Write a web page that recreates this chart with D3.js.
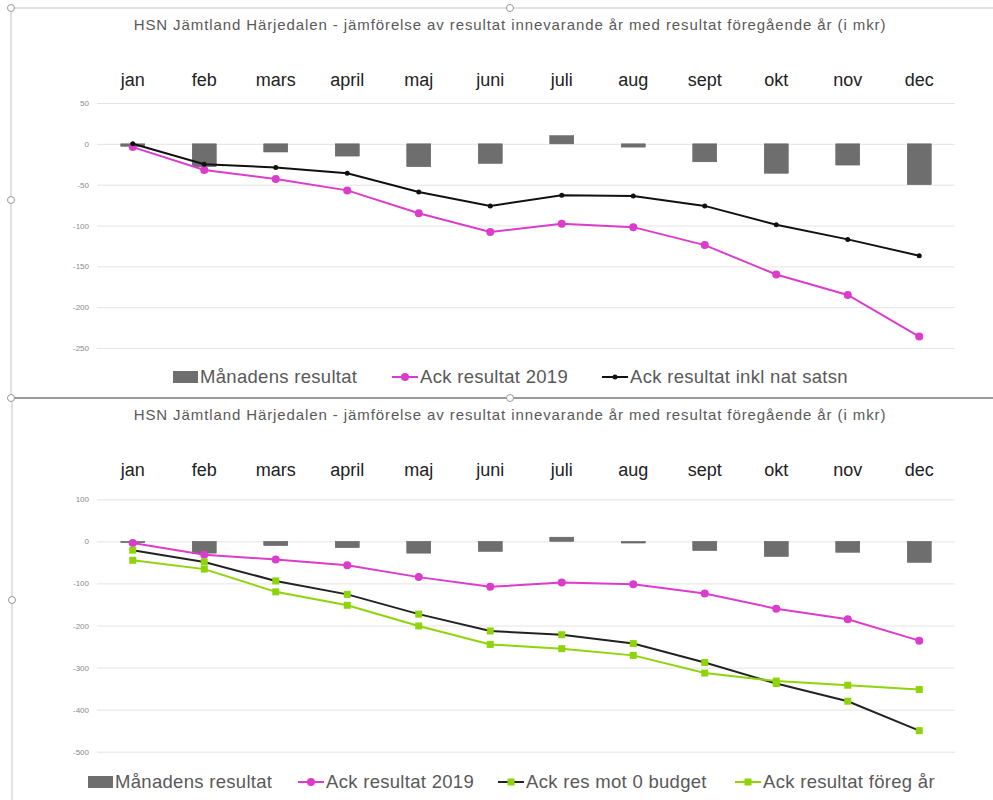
<!DOCTYPE html>
<html>
<head>
<meta charset="utf-8">
<script src="https://cdn.jsdelivr.net/npm/d3@7"></script>
<style>
  body { margin: 0; background: #fff; }
  svg { font-family: "Liberation Sans", Arial, sans-serif; }
</style>
</head>
<body>
<div id="chart"></div>
<script>
const months = ["jan", "feb", "mars", "april", "maj", "juni", "juli", "aug", "sept", "okt", "nov", "dec"];
const title = "HSN Jämtland Härjedalen - jämförelse av resultat innevarande år med resultat föregående år (i mkr)";

// Månadens resultat (same in both charts)
const monthly = [-3, -28, -10, -15, -28, -24, 10, -4, -22, -36, -26, -50];
// Ack resultat 2019
const ack2019 = [-4, -32, -43, -57, -85, -108, -98, -102, -124, -160, -185, -236];
// top chart: Ack resultat inkl nat satsn
const ackNat = [0, -25, -29, -36, -59, -76, -63, -64, -76, -99, -117, -137];
// bottom chart: Ack res mot 0 budget
const ackBudget = [-21, -49, -94, -126, -173, -213, -222, -243, -288, -338, -380, -450];
// bottom chart: Ack resultat föreg år
const ackPrev = [-45, -66, -120, -152, -201, -245, -255, -271, -313, -332, -342, -352];

const topTicks = [50, 0, -50, -100, -150, -200, -250];
const bottomTicks = [100, 0, -100, -200, -300, -400, -500];

const pink = "#dc3ccb";
const green = "#8fd40a";
const barColor = "#6e6e6e";

const svg = d3.select("#chart").append("svg")
    .attr("width", 993)
    .attr("height", 800);

// frames (screenshot of selected chart objects)
svg.append("rect")
    .attr("x", 11).attr("y", 8)
    .attr("width", 1000).attr("height", 390)
    .attr("fill", "none")
    .attr("stroke", "#c4c4c4")
    .attr("stroke-width", 1);
svg.append("line")
    .attr("x1", 11).attr("x2", 993).attr("y1", 398).attr("y2", 398)
    .attr("stroke", "#9a9a9a").attr("stroke-width", 2);
svg.append("line")
    .attr("x1", 12).attr("x2", 12).attr("y1", 398).attr("y2", 800)
    .attr("stroke", "#c4c4c4").attr("stroke-width", 1);
[[11, 8], [11, 200], [11, 398], [510, 398], [12, 600], [510, 8]].forEach(p => {
    svg.append("circle")
        .attr("cx", p[0]).attr("cy", p[1]).attr("r", 3.5)
        .attr("fill", "#fff").attr("stroke", "#999").attr("stroke-width", 1);
});

const x = d3.scaleBand()
    .domain(months)
    .range([97, 955]);

function drawChart(cfg) {
    const g = svg.append("g").attr("transform", "translate(0," + cfg.top + ")");

    const y = d3.scaleLinear()
        .domain(cfg.domain)
        .range(cfg.range);

    // title
    g.append("text")
        .attr("x", 510)
        .attr("y", 22)
        .attr("text-anchor", "middle")
        .style("font-size", "15px")
        .style("letter-spacing", "0.9px")
        .attr("fill", "#595959")
        .text(title);

    // month labels at top
    g.append("g")
        .selectAll("text")
        .data(months)
        .enter().append("text")
        .attr("x", d => x(d) + x.bandwidth() / 2)
        .attr("y", 78)
        .attr("text-anchor", "middle")
        .style("font-size", "18px")
        .attr("fill", "#222")
        .text(d => d);

    // grid + y labels
    const yAxis = d3.axisLeft(y)
        .tickValues(cfg.ticks)
        .tickSize(-(x.range()[1] - x.range()[0]))
        .tickPadding(8)
        .tickFormat(d => String(d));

    const ax = g.append("g")
        .attr("transform", "translate(97,0)")
        .call(yAxis);
    ax.select(".domain").remove();
    ax.selectAll("line").attr("stroke", "#e4e4e4");
    ax.selectAll("text")
        .attr("fill", "#8a8a8a")
        .style("font-size", "8px");

    // bars
    const bw = 24;
    g.append("g")
        .selectAll("rect")
        .data(monthly)
        .enter().append("rect")
        .attr("x", (d, i) => x(months[i]) + x.bandwidth() / 2 - bw / 2)
        .attr("y", d => y(Math.max(0, d)))
        .attr("width", bw)
        .attr("height", d => Math.abs(y(d) - y(0)))
        .attr("fill", barColor)
        .attr("stroke", "#5a5a5a")
        .attr("stroke-width", 0.5);

    const line = d3.line()
        .x((d, i) => x(months[i]) + x.bandwidth() / 2)
        .y(d => y(d));

    cfg.series.forEach(s => {
        g.append("path")
            .datum(s.values)
            .attr("fill", "none")
            .attr("stroke", s.color)
            .attr("stroke-width", 2)
            .attr("d", line);

        const pts = g.append("g")
            .selectAll(".pt")
            .data(s.values)
            .enter();
        if (s.marker === "circle") {
            pts.append("circle")
                .attr("cx", (d, i) => x(months[i]) + x.bandwidth() / 2)
                .attr("cy", d => y(d))
                .attr("r", s.size)
                .attr("fill", s.markerColor);
        } else {
            pts.append("rect")
                .attr("x", (d, i) => x(months[i]) + x.bandwidth() / 2 - s.size)
                .attr("y", d => y(d) - s.size)
                .attr("width", s.size * 2)
                .attr("height", s.size * 2)
                .attr("fill", s.markerColor);
        }
    });

    // legend
    const leg = g.append("g");
    let lx = cfg.legendX;
    const ly = cfg.legendY;
    leg.append("rect")
        .attr("x", lx).attr("y", ly - 6)
        .attr("width", 25).attr("height", 12)
        .attr("fill", barColor);
    leg.append("text")
        .attr("x", lx + 27).attr("y", ly + 6)
        .style("font-size", "18.5px")
        .style("letter-spacing", "0.3px")
        .attr("fill", "#595959")
        .text("Månadens resultat");

    cfg.series.forEach((s, i) => {
        const sx = cfg.legendPos[i];
        leg.append("line")
            .attr("x1", sx).attr("x2", sx + 26)
            .attr("y1", ly).attr("y2", ly)
            .attr("stroke", s.color).attr("stroke-width", 2);
        if (s.marker === "circle") {
            leg.append("circle")
                .attr("cx", sx + 13).attr("cy", ly).attr("r", s.size)
                .attr("fill", s.markerColor);
        } else {
            leg.append("rect")
                .attr("x", sx + 13 - s.size).attr("y", ly - s.size)
                .attr("width", s.size * 2).attr("height", s.size * 2)
                .attr("fill", s.markerColor);
        }
        leg.append("text")
            .attr("x", sx + 28).attr("y", ly + 6)
            .style("font-size", "18.5px")
            .style("letter-spacing", "0.3px")
            .attr("fill", "#595959")
            .text(s.name);
    });
}

drawChart({
    top: 8,
    domain: [-250, 50],
    range: [340, 95],
    ticks: topTicks,
    legendX: 173,
    legendY: 369,
    legendPos: [392, 602],
    series: [
        { name: "Ack resultat 2019", values: ack2019, color: pink, marker: "circle", size: 4, markerColor: pink },
        { name: "Ack resultat inkl nat satsn", values: ackNat, color: "#111", marker: "circle", size: 2.5, markerColor: "#111" }
    ]
});

drawChart({
    top: 398,
    domain: [-500, 100],
    range: [353.7, 101.3],
    ticks: bottomTicks,
    legendX: 88,
    legendY: 384,
    legendPos: [298, 498, 735],
    series: [
        { name: "Ack resultat 2019", values: ack2019, color: pink, marker: "circle", size: 4, markerColor: pink },
        { name: "Ack res mot 0 budget", values: ackBudget, color: "#222", marker: "square", size: 3.5, markerColor: green },
        { name: "Ack resultat föreg år", values: ackPrev, color: green, marker: "square", size: 3.5, markerColor: green }
    ]
});
</script>
</body>
</html>
